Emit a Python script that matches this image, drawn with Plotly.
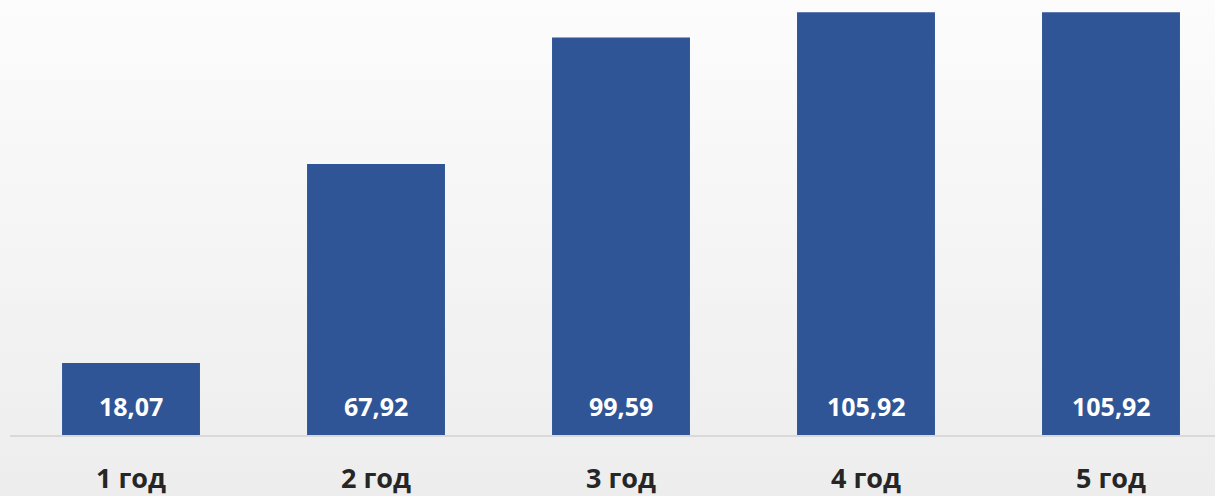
import base64
import plotly.graph_objects as go

# Payback values by year
categories = ["1 год", "2 год", "3 год", "4 год", "5 год"]
values = [18.07, 67.92, 99.59, 105.92, 105.92]
value_labels = [f"{v:.2f}".replace(".", ",") for v in values]

BAR_COLOR = "#2F5597"

# Soft vertical gradient for the page background
svg = (
    '<svg xmlns="http://www.w3.org/2000/svg" width="100" height="100" preserveAspectRatio="none">'
    '<defs><linearGradient id="g" x1="0" y1="0" x2="0" y2="1">'
    '<stop offset="0" stop-color="#FCFCFC"/><stop offset="1" stop-color="#EDEDED"/>'
    '</linearGradient></defs><rect width="100" height="100" fill="url(#g)"/></svg>'
)
bg_uri = "data:image/svg+xml;base64," + base64.b64encode(svg.encode()).decode()

fig = go.Figure(
    go.Bar(
        x=categories,
        y=values,
        width=[0.563] * len(values),
        marker=dict(color=BAR_COLOR, line=dict(width=0)),
        hoverinfo="skip",
    )
)

for cat, val, lab in zip(categories, values, value_labels):
    fig.add_annotation(
        x=cat, y=0, text=f"<b>{lab}</b>", showarrow=False,
        yanchor="bottom", yshift=10,
        font=dict(family="Open Sans", size=25, color="white"),
    )

fig.update_layout(
    width=1215,
    height=496,
    margin=dict(l=10, r=0, t=0, b=59),
    paper_bgcolor="#F5F5F5",
    plot_bgcolor="rgba(0,0,0,0)",
    showlegend=False,
    images=[dict(
        source=bg_uri, xref="paper", yref="paper", x=-0.01, y=1.0,
        sizex=1.02, sizey=1.14, xanchor="left", yanchor="top",
        sizing="stretch", layer="below",
    )],
    xaxis=dict(
        range=[-0.4939, 4.4245],
        showgrid=False, zeroline=False,
        showline=True, linecolor="#D9D9D9", linewidth=2,
        ticks="", tickfont=dict(family="Open Sans", size=27, color="#262626"),
        tickprefix="<b>", ticksuffix="</b>",
        ticklabelstandoff=19,
    ),
    yaxis=dict(
        range=[0, 109.0], visible=False, showgrid=False, zeroline=False,
    ),
)

fig.write_html("out.html")
